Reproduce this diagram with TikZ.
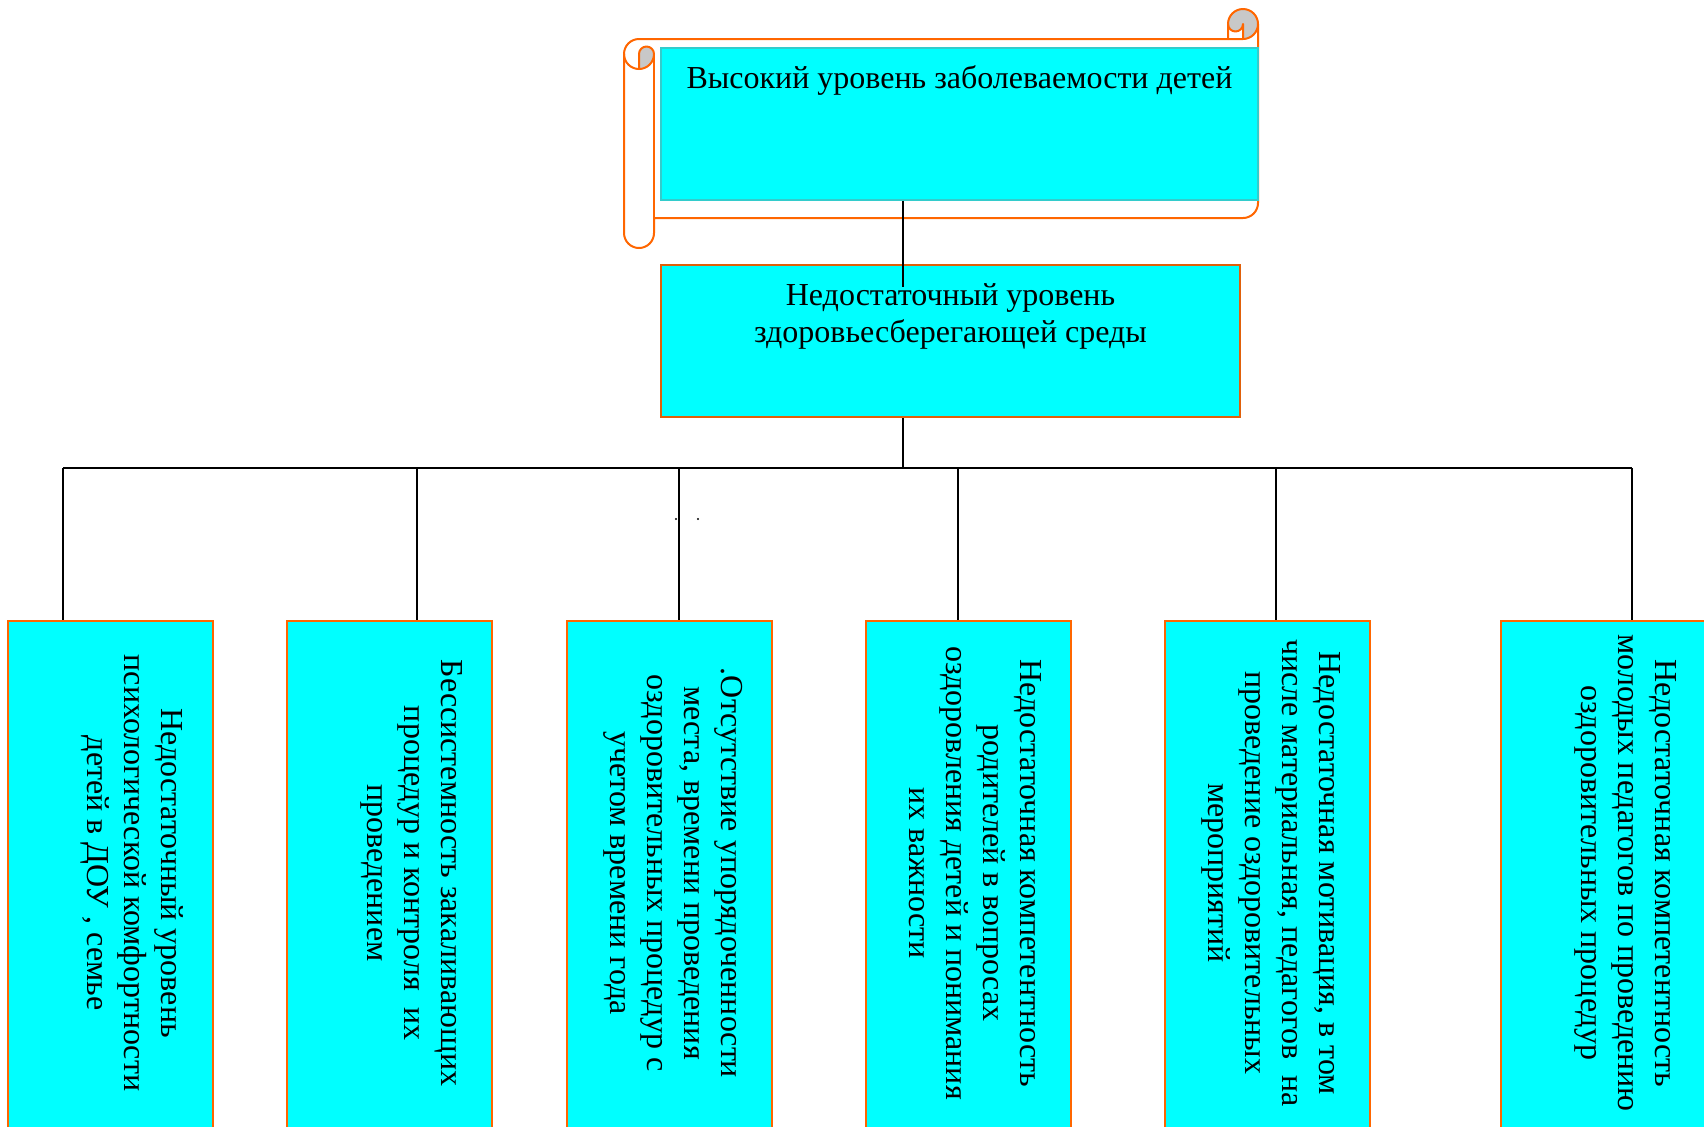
\documentclass[tikz,border=0pt]{standalone}
\usepackage{fontspec}
\setmainfont{Liberation Serif}
\usetikzlibrary{fit}
\definecolor{aqua}{HTML}{00FFFF}
\definecolor{orng}{HTML}{FF6600}
\definecolor{dorng}{HTML}{E0600A}
\definecolor{turq}{HTML}{33CCCC}
\definecolor{curl}{HTML}{C8C8C8}

\begin{document}
\begin{tikzpicture}[x=.5pt, y=-.5pt, font=\fontsize{16}{18.5}\selectfont,
    scroll/.style={draw=orng, line width=1pt, line join=round},
    topbox/.style={draw=turq, fill=aqua, line width=.8pt, inner sep=0},
    midbox/.style={draw=dorng, fill=aqua, line width=1pt, inner sep=0},
    cause/.style={draw=orng, fill=aqua, line width=1pt, inner sep=0},
    vtext/.style={rotate=-90, anchor=north, align=center, inner sep=0},
    wire/.style={line width=.7pt},
    bus/.style={line width=1pt}]
    \useasboundingbox(0, 0)rectangle(1704, 1126);
    \clip(0, 0)rectangle(1704, 1126);
    \fill[curl](1243, 39)arc[start angle=90, end angle=0, radius=15]arc[start angle=0, end angle=-180, radius=15]
        arc[start angle=180, end angle=0, radius=7.5]--cycle;
    \fill[curl](639, 54)arc[start angle=180, end angle=360, radius=7.5]arc[start angle=0, end angle=90, radius=15]--cycle;
    \draw[scroll](624, 54)arc[start angle=180, end angle=270, radius=15]--(1228, 39)--(1228, 24)
        arc[start angle=180, end angle=360, radius=15]--(1258, 203)arc[start angle=0, end angle=90, radius=15]
        --(654, 218)--(654, 233)arc[start angle=0, end angle=180, radius=15]--cycle;
    \draw[scroll](1228, 39)--(1243, 39)arc[start angle=90, end angle=0, radius=15];
    \draw[scroll](1243, 39)--(1243, 24)arc[start angle=0, end angle=180, radius=7.5];
    \draw[scroll](639, 69)--(639, 54)arc[start angle=180, end angle=360, radius=7.5]
        arc[start angle=0, end angle=180, radius=15];
    \draw[scroll](654, 54)--(654, 218);
    \node[topbox, fit={(661, 48)(1258, 200)}](risk){};
    \node[anchor=base](risktxt)at(959.5, 88){Высокий уровень заболеваемости детей};
    \node[midbox, fit={(661, 265)(1240, 417)}](env){};
    \node[anchor=base, align=center](envtxt)at(950.5, 342){Недостаточный уровень\\здоровьесберегающей среды};
    \foreach \i/\l in {1/8, 2/287, 3/567, 4/866, 5/1165, 6/1501}
        \node[cause, fit={(\l, 621)(\l+205, 1131)}](c\i){};
    \node[vtext](t1)at([xshift=-15pt, yshift=1.5pt]c1.east){Недостаточный уровень\\психологической комфортности\\детей в ДОУ , семье};
    \node[vtext](t2)at([xshift=-15pt, yshift=1.5pt]c2.east){Бессистемность закаливающих\\процедур и контроля\ \ их\\проведением};
    \node[vtext](t3)at([xshift=-15pt, yshift=1.5pt]c3.east){.Отсутствие упорядоченности\\места, времени проведения\\оздоровительных процедур с\\учетом времени года};
    \node[vtext](t4)at([xshift=-15pt, yshift=1.5pt]c4.east){Недостаточная компетентность\\родителей в вопросах\\оздоровления детей и понимания\\их важности};
    \node[vtext](t5)at([xshift=-15pt, yshift=1.5pt]c5.east){Недостаточная мотивация, в том\\числе материальная, педагогов\ \ на\\проведение оздоровительных\\мероприятий};
    \node[vtext](t6)at([xshift=-15pt, yshift=1.5pt]c6.east){Недостаточная компетентность\\молодых педагогов по проведению\\оздоровительных процедур};
    \coordinate(k)at(903, 287);
    \coordinate(j)at(903, 468);
    \draw[wire](risk.south -| k)--(k);
    \draw[wire](env.south -| j)--(j);
    \foreach \i/\x in {1/63, 2/417, 3/679, 4/958, 5/1276, 6/1632}{
        \coordinate(d\i)at(\x, 468);
        \draw[wire](d\i)--(d\i |- c\i.north);
    }
    \draw[bus](d1)--(d6);
    \fill(676, 519)circle[radius=1.2];
    \fill(698, 519)circle[radius=1.2];
\end{tikzpicture}
\end{document}
